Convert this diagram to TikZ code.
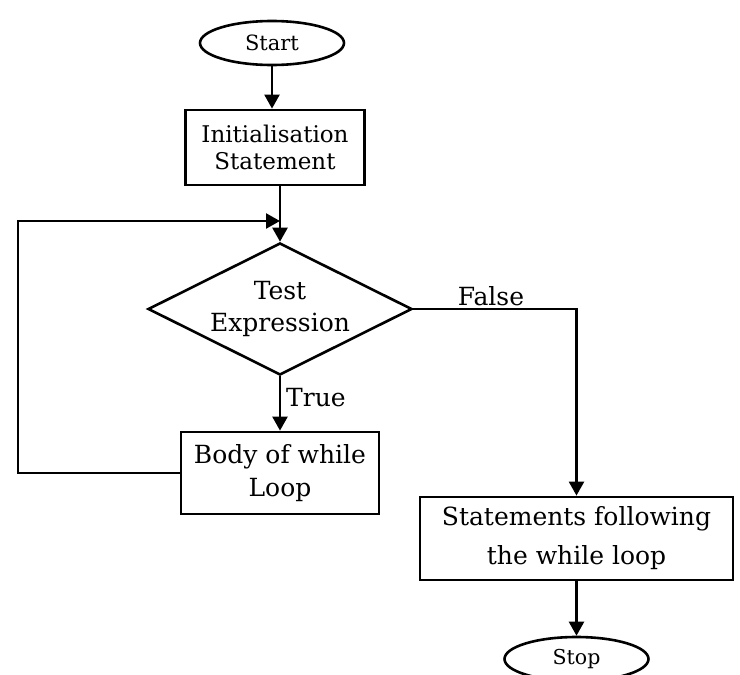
\documentclass[tikz,border=0pt]{standalone}
\usepackage{fontspec}
\setmainfont{DejaVu Serif}
\usetikzlibrary{shapes.geometric,arrows.meta}
\tikzset{
  box/.style={draw, rectangle, line width=2.8pt, inner sep=0pt, align=center},
  term/.style={draw, ellipse, line width=2.6pt, inner sep=0pt, minimum width=144pt, minimum height=44pt},
  dec/.style={draw, diamond, line width=2.6pt, inner sep=0pt, aspect=2, minimum width=264pt, minimum height=132pt, align=center},
  conn/.style={line width=2.4pt},
  arr/.style={conn, -{Triangle[width=15pt,length=14pt]}},
  lbl/.style={inner sep=0pt, font=\fontsize{25}{30}\selectfont}
}
\begin{document}
\begin{tikzpicture}[x=1pt,y=-1pt]
\useasboundingbox (0,0) rectangle (740,675);
\node[term, font=\fontsize{21}{25}\selectfont] (start) at (272,43) {Start};
\node[box, minimum width=179pt, minimum height=75pt, font=\fontsize{23}{27}\selectfont] (init) at (275,147.5) {Initialisation\\Statement};
\node[dec, font=\fontsize{25}{32}\selectfont] (test) at (280,309) {Test\\Expression};
\node[box, minimum width=198pt, minimum height=82pt, font=\fontsize{25}{33}\selectfont] (body) at (280,473) {Body of while\\Loop};
\node[box, minimum width=313pt, minimum height=83pt, font=\fontsize{25}{39}\selectfont] (stmt) at (576.5,538.5) {Statements following\\the while loop};
\node[term, font=\fontsize{20.5}{25}\selectfont] (stop) at (576.5,659) {Stop};
\coordinate (merge) at (280,221);
\coordinate (loopT) at (18,221);
\draw[arr] (start.south) -- (start.south |- init.north);
\draw[arr] (init.south -| test.north) -- (test.north);
\draw[arr] (body.west) -| (loopT) -- (merge);
\draw[arr] (test.south) -- (body.north) node[lbl, pos=0.4, anchor=west, xshift=5pt] (tl) {True};
\draw[arr] (test.east) -| (stmt.north);
\node[lbl, anchor=south] (fl) at (491,306) {False};
\draw[arr] (stmt.south) -- (stop.north);
\end{tikzpicture}
\end{document}
